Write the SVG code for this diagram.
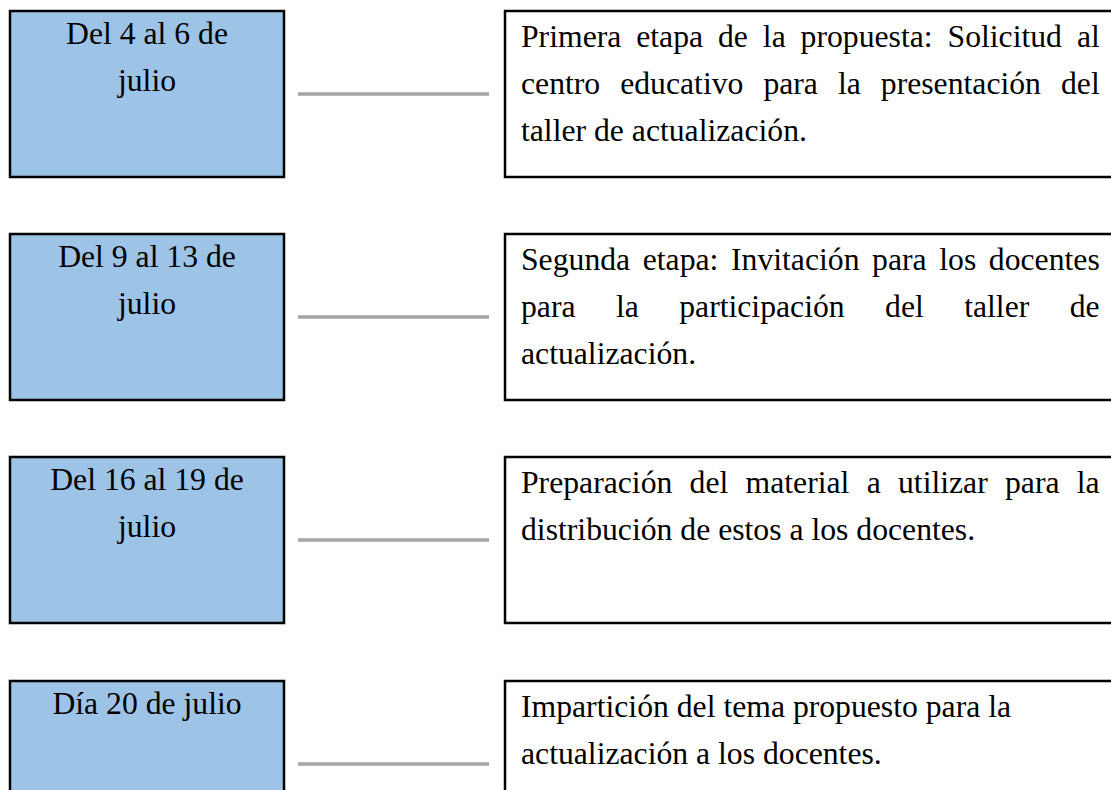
<svg xmlns="http://www.w3.org/2000/svg" width="1111" height="790" viewBox="0 0 1111 790">
<style>
.date{fill:#9dc3e6;stroke:#000;stroke-width:2.5}
.desc{fill:#fff;stroke:#000;stroke-width:2.5}
text{font-family:"Liberation Serif","Times New Roman",serif;font-size:31.7px;fill:#000}
.c{text-anchor:middle}
.conn line{stroke:#a5a5a5;stroke-width:3.5}
</style>
<rect width="1111" height="790" fill="#fff"/>
<g id="connectors" class="conn">
<line x1="298" y1="94" x2="489" y2="94"/>
<line x1="298" y1="317" x2="489" y2="317"/>
<line x1="298" y1="540" x2="489" y2="540"/>
<line x1="298" y1="764" x2="489" y2="764"/>
</g>
<g id="date1"><rect class="date" x="10" y="11" width="274" height="166"/>
<text class="c" x="147" y="44">Del 4 al 6 de</text><text class="c" x="147" y="91">julio</text></g>
<g id="desc1"><rect class="desc" x="505" y="11" width="640" height="166"/>
<text x="521" y="47" word-spacing="7">Primera etapa de la propuesta: Solicitud al</text>
<text x="521" y="94" word-spacing="12.1">centro educativo para la presentación del</text>
<text x="521" y="141">taller de actualización.</text></g>
<g id="date2"><rect class="date" x="10" y="234" width="274" height="166"/>
<text class="c" x="147" y="267">Del 9 al 13 de</text><text class="c" x="147" y="314">julio</text></g>
<g id="desc2"><rect class="desc" x="505" y="234" width="640" height="166"/>
<text x="521" y="270" word-spacing="4.7">Segunda etapa: Invitación para los docentes</text>
<text x="521" y="317" word-spacing="32.5">para la participación del taller de</text>
<text x="521" y="364">actualización.</text></g>
<g id="date3"><rect class="date" x="10" y="457" width="274" height="166"/>
<text class="c" x="147" y="490">Del 16 al 19 de</text><text class="c" x="147" y="537">julio</text></g>
<g id="desc3"><rect class="desc" x="505" y="457" width="640" height="166"/>
<text x="521" y="493" word-spacing="9.35">Preparación del material a utilizar para la</text>
<text x="521" y="540">distribución de estos a los docentes.</text></g>
<g id="date4"><rect class="date" x="10" y="681" width="274" height="166"/>
<text class="c" x="147" y="714">Día 20 de julio</text></g>
<g id="desc4"><rect class="desc" x="505" y="681" width="640" height="166"/>
<text x="521" y="717">Impartición del tema propuesto para la</text>
<text x="521" y="764">actualización a los docentes.</text></g>
</svg>
